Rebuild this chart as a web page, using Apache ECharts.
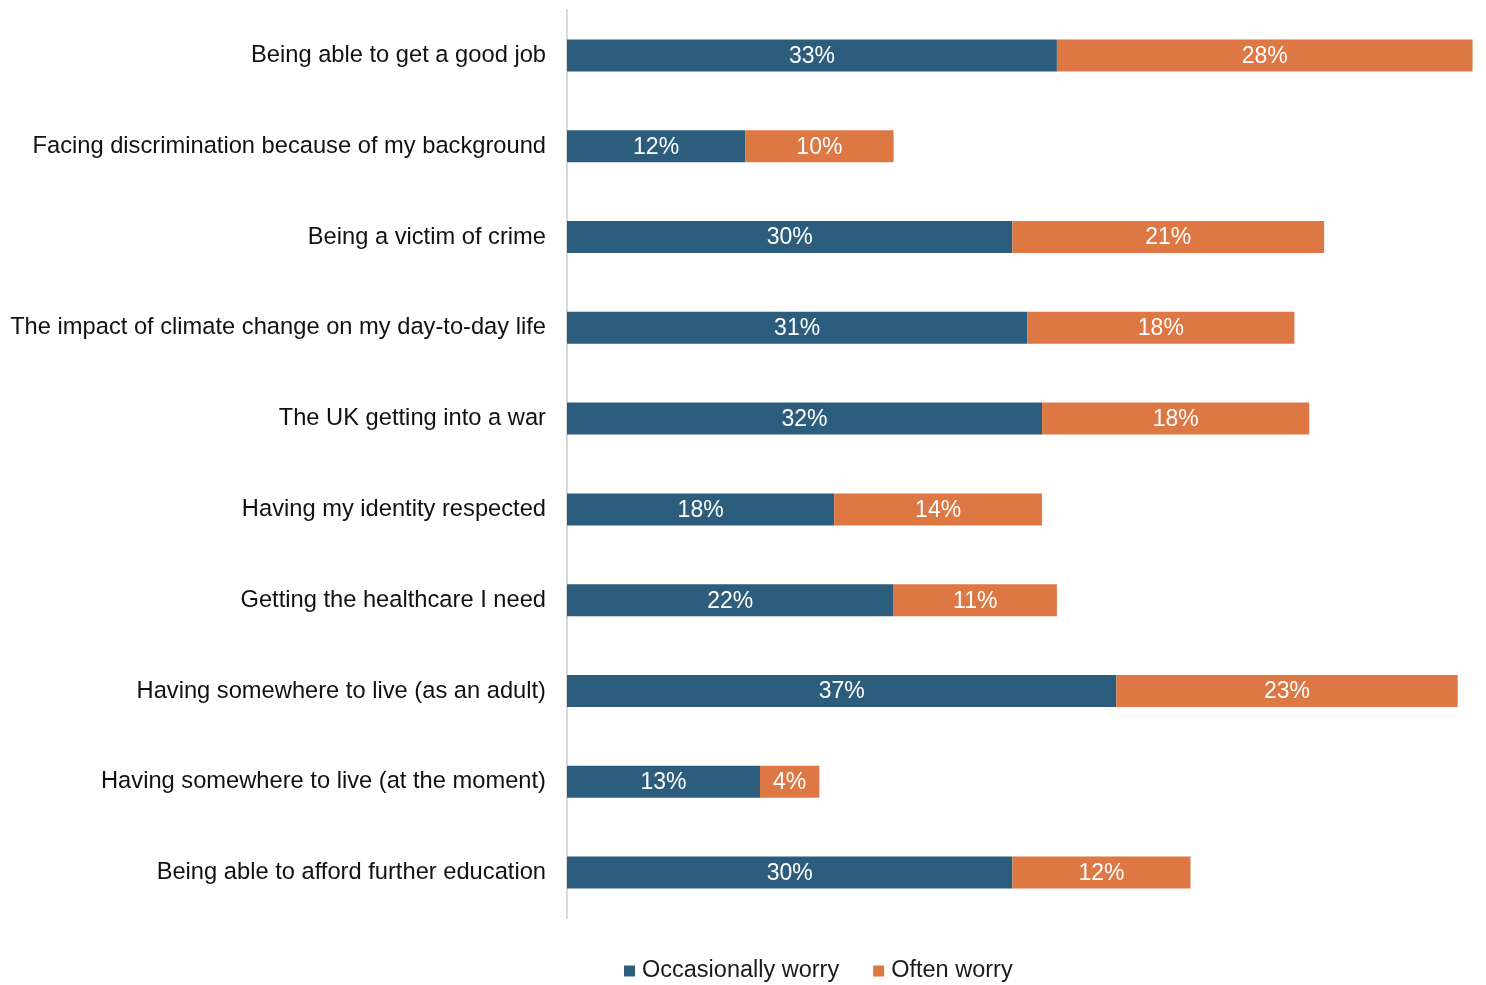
<!DOCTYPE html>
<html>
<head>
<meta charset="utf-8">
<script src="https://cdn.jsdelivr.net/npm/echarts@6/dist/echarts.min.js"></script>
<style>
  html, body { margin: 0; padding: 0; background: #ffffff; }
  #chart { width: 1486px; height: 985px; }
</style>
</head>
<body>
<div id="chart"></div>
<script>
// Worries, share of respondents (%)
const categories = [
  'Being able to get a good job',
  'Facing discrimination because of my background',
  'Being a victim of crime',
  'The impact of climate change on my day-to-day life',
  'The UK getting into a war',
  'Having my identity respected',
  'Getting the healthcare I need',
  'Having somewhere to live (as an adult)',
  'Having somewhere to live (at the moment)',
  'Being able to afford further education'
];
const occasionallyWorry = [33, 12, 30, 31, 32, 18, 22, 37, 13, 30];
const oftenWorry = [28, 10, 21, 18, 18, 14, 11, 23, 4, 12];
const seriesNames = ['Occasionally worry', 'Often worry'];

const FONT = 'Liberation Sans, Arial, sans-serif';
const BLUE = '#2d5d7d';
const ORANGE = '#dd7744';

const chart = echarts.init(document.getElementById('chart'), null, { renderer: 'canvas' });

const inside = {
  show: true,
  position: 'inside',
  color: '#ffffff',
  fontFamily: FONT,
  fontSize: 23,
  offset: [0, 1],
  formatter: p => p.value + '%'
};

chart.setOption({
  animation: false,
  backgroundColor: '#ffffff',
  grid: { left: 567, right: 6, top: 10, bottom: 67, containLabel: false },
  legend: {
    top: 954,
    left: 619,
    itemWidth: 11,
    itemHeight: 11,
    itemGap: 34,
    icon: 'rect',
    textStyle: { fontFamily: FONT, fontSize: 23.5, color: '#1a1a1a', padding: [0, 0, 0, 2] },
    data: seriesNames
  },
  xAxis: {
    type: 'value',
    min: 0,
    max: 61.5,
    show: false
  },
  yAxis: {
    type: 'category',
    inverse: true,
    data: categories,
    axisLine: { show: true, lineStyle: { color: '#d9d9d9', width: 2 } },
    axisTick: { show: false },
    axisLabel: {
      fontFamily: FONT,
      fontSize: 23.7,
      color: '#111111',
      margin: 21,
      padding: [2, 0, 0, 0]
    }
  },
  series: [
    {
      name: seriesNames[0],
      type: 'bar',
      stack: 'total',
      barWidth: 32,
      itemStyle: { color: BLUE },
      label: inside,
      data: occasionallyWorry
    },
    {
      name: seriesNames[1],
      type: 'bar',
      stack: 'total',
      barWidth: 32,
      itemStyle: { color: ORANGE },
      label: inside,
      data: oftenWorry
    }
  ]
});
</script>
</body>
</html>
